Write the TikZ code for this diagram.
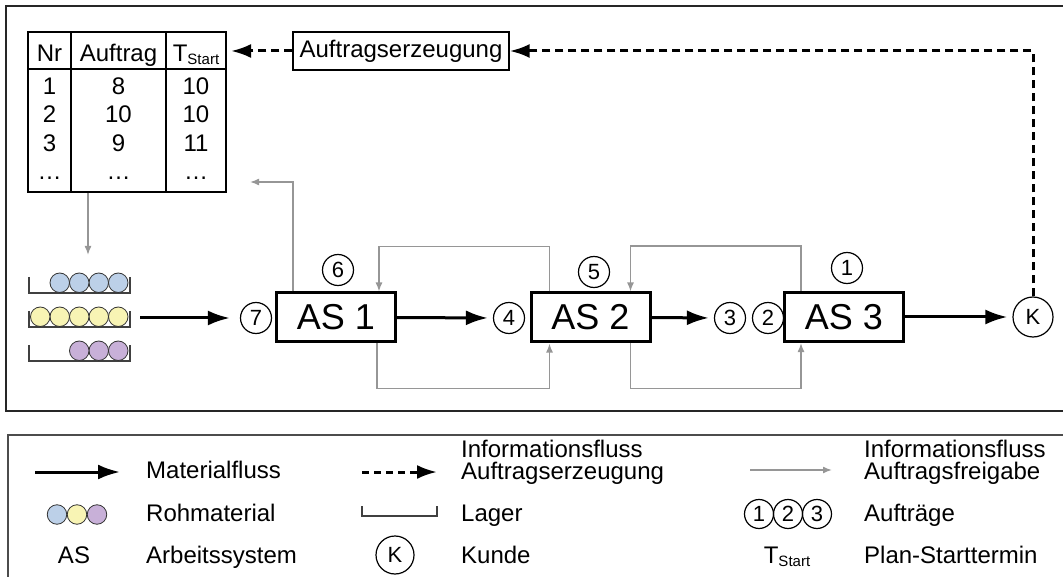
\documentclass[tikz,border=0pt]{standalone}
\usepackage{fontspec}
\setmainfont{Liberation Sans}
\usetikzlibrary{arrows.meta}

\definecolor{rohblau}{RGB}{188,208,232}
\definecolor{rohgelb}{RGB}{248,244,180}
\definecolor{rohlila}{RGB}{200,176,216}
\definecolor{freigabegrau}{RGB}{150,150,150}

\newcommand{\tstart}{T\raisebox{-3pt}{\fontsize{15}{15}\selectfont Start}}

\begin{document}
\begin{tikzpicture}[x=1pt,y=-1pt,
    txt/.style={font=\fontsize{24}{22}\selectfont, inner sep=0pt},
    as/.style={draw, line width=3pt, minimum width=119pt, minimum height=49pt,
      font=\fontsize{36}{36}\selectfont},
    auftrag/.style={circle, draw, line width=1.2pt, minimum size=31pt, inner sep=0pt,
      font=\fontsize{22}{22}\selectfont},
    kunde/.style={auftrag, minimum size=40pt},
    material/.style={line width=3pt, -{Latex[length=22pt,width=15pt]}},
    erzeugung/.style={line width=3pt, dash pattern=on 8pt off 5pt,
      -{Latex[length=20pt,width=14pt]}},
    freigabe/.style={draw=freigabegrau, line width=1.5pt, -{Latex[length=9pt,width=7pt]}},
    ball/.style={draw=black!80, line width=0.8pt},
    lagerlinie/.style={line width=1.2pt, draw=black!75}]
  \useasboundingbox (0,0) rectangle (1063,577);
  \draw[line width=2pt, draw=black!85] (6,6) rectangle (1080,411);
  \draw[line width=1.5pt, draw=black!70] (8,435) rectangle (1080,600);

  % Auftragsliste
  \node[draw, line width=2pt, minimum width=198pt, minimum height=160pt, inner sep=0pt]
    (tab) at (127,112) {};
  \draw[line width=2pt] (28,69) -- (226,69) (71,32) -- (71,192) (166,32) -- (166,192);
  \node[txt, anchor=base] (nr) at (49.5,62) {Nr};
  \node[txt, anchor=base] (auftrag) at (118.5,62) {Auftrag};
  \node[txt, anchor=base] (tst) at (196,62) {\tstart};
  \foreach \nr/\auf/\ts [count=\i] in {1/8/10, 2/10/10, 3/9/11, \dots/\dots/\dots} {
    \node[txt, anchor=base] (nr\i) at (49.5,94.5+28.5*\i-28.5) {\nr};
    \node[txt, anchor=base] (auf\i) at (118.5,94.5+28.5*\i-28.5) {\auf};
    \node[txt, anchor=base] (ts\i) at (196,94.5+28.5*\i-28.5) {\ts};
  }
  \node[draw, line width=1.5pt, txt, minimum height=38pt, inner xsep=6.5pt]
    (erz) at (401,51) {Auftragserzeugung};

  % Lager mit Rohmaterial
  \foreach \y/\n/\farbe in {293/4/rohblau, 327/5/rohgelb, 361/3/rohlila} {
    \draw[lagerlinie] (29,\y-16) |- (130,\y) -- (130,\y-16);
    \foreach \i in {1,...,\n}
      \draw[ball, fill=\farbe] (118.25-19.5*\i+19.5,\y-10.25) circle (9.75);
  }

  % Arbeitssysteme und Auftraege
  \node[as] (as1) at (336,317.5) {AS 1};
  \node[as] (as2) at (590.5,317.5) {AS 2};
  \node[as] (as3) at (844,317) {AS 3};
  \node[auftrag] (a7) at (256,318) {7};
  \node[auftrag] (a6) at (338,270) {6};
  \node[auftrag] (a4) at (509,318) {4};
  \node[auftrag] (a5) at (594,272) {5};
  \node[auftrag] (a3) at (730,318) {3};
  \node[auftrag] (a2) at (768,318) {2};
  \node[auftrag] (a1) at (847,268) {1};
  \node[kunde] (k) at (1033,317) {K};

  \coordinate (lagerout) at (140,318);
  \draw[material, shorten >=10pt] (lagerout) -- (a7);
  \draw[material, shorten >=5pt] (as1.east) -- (a4.west);
  \draw[material, shorten >=5pt] (as2.east) -- (a3.west);
  \draw[material, shorten >=5pt] (as3.east) -- (k.west);

  \draw[erzeugung] (k.north) -- (k.north |- erz) -- (erz.east);
  \draw[erzeugung, shorten >=4pt] (erz.west) -- (tab.east |- erz);

  \coordinate (lagerin) at (88,255);
  \coordinate (tabfrei) at (250,182);
  \draw[freigabe] (tab.south -| lagerin) -- (lagerin);
  \draw[freigabe] ([xshift=-43pt]as1.north) |- (tabfrei);
  \draw[freigabe] ([xshift=-41pt]as2.north) -- ++(0,-45) -| ([xshift=43pt]as1.north);
  \draw[freigabe] ([xshift=41pt]as1.south) -- ++(0,45) -| ([xshift=-41pt]as2.south);
  \draw[freigabe] ([xshift=-43pt]as3.north) -- ++(0,-45) -| ([xshift=40pt]as2.north);
  \draw[freigabe] ([xshift=40pt]as2.south) -- ++(0,45) -| ([xshift=-43pt]as3.south);

  % Legende
  \coordinate (lm1) at (35,472);
  \coordinate (lm2) at (120,472);
  \draw[material] (lm1) -- (lm2);
  \node[txt, anchor=base west] (lmat) at (146,478) {Materialfluss};
  \coordinate (le1) at (362,472);
  \coordinate (le2) at (437,472);
  \draw[erzeugung, dash pattern=on 7pt off 5pt] (le1) -- (le2);
  \node[txt, anchor=base west] (lerz1) at (461,457) {Informationsfluss};
  \node[txt, anchor=base west] (lerz2) at (461,479) {Auftragserzeugung};
  \coordinate (lf1) at (750,470);
  \coordinate (lf2) at (832,470);
  \draw[freigabe] (lf1) -- (lf2);
  \node[txt, anchor=base west] (lfrei1) at (864,457) {Informationsfluss};
  \node[txt, anchor=base west] (lfrei2) at (864,479) {Auftragsfreigabe};

  \foreach \x/\farbe in {57/rohblau, 77/rohgelb, 97/rohlila}
    \draw[ball, fill=\farbe] (\x,514.5) circle (9.75);
  \node[txt, anchor=base west] (lroh) at (146,521) {Rohmaterial};
  \draw[lagerlinie] (362,506) |- (437,516) -- (437,506);
  \node[txt, anchor=base west] (llag) at (461,521) {Lager};
  \foreach \n/\x in {1/759, 2/788, 3/817}
    \node[auftrag, minimum size=29pt] (la\n) at (\x,514) {\n};
  \node[txt, anchor=base west] (lauf) at (864,521) {Aufträge};

  \node[txt, anchor=base] (las) at (74,563) {AS};
  \node[txt, anchor=base west] (lasys) at (146,563) {Arbeitssystem};
  \node[kunde, minimum size=38pt] (lk) at (395,555) {K};
  \node[txt, anchor=base west] (lkunde) at (461,563) {Kunde};
  \node[txt, anchor=base] (lts) at (787,563) {\tstart};
  \node[txt, anchor=base west] (lplan) at (864,563) {Plan-Starttermin};
\end{tikzpicture}
\end{document}
